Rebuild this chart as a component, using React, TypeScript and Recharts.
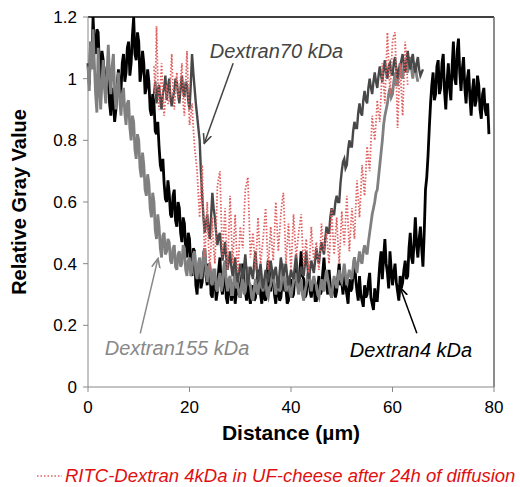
import {
  LineChart,
  Line,
  XAxis,
  YAxis,
  ReferenceLine,
  ReferenceDot,
  Legend,
} from "recharts";

const FONT = '"Liberation Sans", Arial, Helvetica, sans-serif';

// sample spacing of the profiles (µm); each row below is 2 µm
const STEP = 0.25;

const distanceTicks = [0, 20, 40, 60, 80];
const grayTicks = [0, 0.2, 0.4, 0.6, 0.8, 1, 1.2];

// Dextran 4 kDa, black, from 0 µm
const dextran4Start = 0;
const dextran4 = [
  1.05, 0.98, 1.12, 1.06, 1.2, 1.1, 1.08, 1.16,
  1.15, 1.04, 0.98, 1.09, 1.06, 0.99, 0.95, 1.04,
  1.02, 0.92, 0.88, 0.97, 0.93, 0.86, 0.9, 0.98,
  1.03, 0.94, 0.96, 1.05, 1.08, 0.99, 1.02, 1.1,
  1.12, 1.01, 1.05, 1.14, 1.2, 1.08, 1.06, 1.15,
  1.12, 0.99, 1.02, 1.09, 1.05, 0.95, 0.97, 1.03,
  0.99, 0.9, 0.88, 0.95, 0.92, 0.83, 0.82, 0.86,
  0.78, 0.72, 0.7, 0.74, 0.66, 0.61, 0.6, 0.67,
  0.63, 0.56, 0.55, 0.62, 0.64, 0.54, 0.52, 0.6,
  0.58, 0.5, 0.47, 0.55, 0.53, 0.44, 0.42, 0.5,
  0.48, 0.39, 0.36, 0.45, 0.44, 0.33, 0.3, 0.38,
  0.41, 0.32, 0.34, 0.43, 0.45, 0.36, 0.33, 0.4,
  0.39, 0.3, 0.29, 0.37, 0.36, 0.28, 0.31, 0.38,
  0.42, 0.33, 0.3, 0.36, 0.38, 0.29, 0.27, 0.33,
  0.35, 0.28, 0.3, 0.34, 0.27, 0.31, 0.36, 0.3,
  0.29, 0.35, 0.4, 0.33, 0.31, 0.28, 0.35, 0.3,
  0.27, 0.31, 0.33, 0.28, 0.29, 0.34, 0.38, 0.32,
  0.3, 0.27, 0.34, 0.29, 0.28, 0.35, 0.41, 0.33,
  0.31, 0.38, 0.36, 0.3, 0.27, 0.32, 0.33, 0.28,
  0.29, 0.34, 0.37, 0.31, 0.32, 0.27, 0.28, 0.33,
  0.35, 0.29, 0.3, 0.36, 0.4, 0.34, 0.32, 0.37,
  0.44, 0.36, 0.35, 0.29, 0.3, 0.35, 0.38, 0.31,
  0.29, 0.33, 0.34, 0.28, 0.28, 0.32, 0.36, 0.3,
  0.31, 0.37, 0.42, 0.35, 0.33, 0.3, 0.38, 0.33,
  0.29, 0.32, 0.35, 0.29, 0.31, 0.36, 0.4, 0.33,
  0.34, 0.3, 0.38, 0.33, 0.3, 0.27, 0.35, 0.31,
  0.32, 0.37, 0.42, 0.35, 0.31, 0.28, 0.36, 0.3,
  0.28, 0.26, 0.33, 0.29, 0.3, 0.34, 0.37, 0.29,
  0.27, 0.25, 0.32, 0.28, 0.28, 0.34, 0.4, 0.44,
  0.35, 0.42, 0.48, 0.4, 0.37, 0.32, 0.44, 0.38,
  0.33, 0.37, 0.4, 0.34, 0.31, 0.28, 0.36, 0.32,
  0.34, 0.38, 0.41, 0.35, 0.36, 0.45, 0.5, 0.42,
  0.4, 0.47, 0.55, 0.46, 0.42, 0.48, 0.52, 0.45,
  0.39, 0.5, 0.64, 0.68, 0.75, 0.84, 0.92, 0.98,
  1.02, 0.93, 0.95, 1.04, 1.06, 0.95, 0.97, 1.05,
  1.08, 0.96, 0.9, 0.99, 1.05, 0.97, 0.93, 1.04,
  1.12, 1.0, 0.98, 1.09, 1.13, 1.02, 0.96, 1.03,
  1.07, 0.97, 0.92, 1.0, 1.03, 0.94, 0.88, 0.96,
  1.0, 0.91, 0.93, 1.01, 0.98, 0.9, 0.87, 0.95,
  0.97, 0.9, 0.88, 0.92, 0.82,
];

// Dextran 155 kDa, light gray, from 0 µm
const dextran155Start = 0;
const dextran155 = [
  1.04, 0.96, 1.12, 1.03, 1.16, 1.05, 0.95, 0.89,
  1.1, 0.98, 0.9, 0.99, 1.06, 0.97, 0.92, 1.02,
  1.11, 1.0, 0.95, 1.04, 1.08, 0.96, 0.9, 0.97,
  1.02, 0.93, 0.88, 0.95, 0.97, 0.89, 0.85, 0.92,
  0.93, 0.84, 0.8, 0.88, 0.86, 0.77, 0.74, 0.82,
  0.8, 0.71, 0.68, 0.76, 0.72, 0.64, 0.62, 0.69,
  0.66, 0.58, 0.55, 0.63, 0.6, 0.51, 0.48, 0.56,
  0.52, 0.45, 0.42, 0.49, 0.5, 0.43, 0.44, 0.48,
  0.47, 0.41, 0.4, 0.45, 0.46, 0.39, 0.38, 0.43,
  0.44, 0.39, 0.4, 0.46, 0.45, 0.38, 0.36, 0.41,
  0.42, 0.36, 0.38, 0.43, 0.44, 0.37, 0.35, 0.4,
  0.42, 0.35, 0.37, 0.43, 0.45, 0.38, 0.34, 0.39,
  0.4, 0.34, 0.33, 0.38, 0.38, 0.32, 0.31, 0.35,
  0.37, 0.31, 0.33, 0.39, 0.41, 0.34, 0.31, 0.35,
  0.36, 0.3, 0.3, 0.35, 0.38, 0.32, 0.33, 0.3,
  0.29, 0.33, 0.36, 0.3, 0.31, 0.35, 0.39, 0.34,
  0.33, 0.29, 0.28, 0.32, 0.35, 0.31, 0.3, 0.34,
  0.38, 0.33, 0.31, 0.34, 0.36, 0.3, 0.29, 0.32,
  0.33, 0.36, 0.38, 0.33, 0.3, 0.33, 0.35, 0.31,
  0.32, 0.36, 0.4, 0.34, 0.31, 0.34, 0.36, 0.31,
  0.29, 0.32, 0.34, 0.36, 0.37, 0.33, 0.3, 0.33,
  0.35, 0.3, 0.28, 0.31, 0.33, 0.36, 0.38, 0.34,
  0.31, 0.34, 0.36, 0.34, 0.33, 0.3, 0.29, 0.32,
  0.35, 0.32, 0.31, 0.35, 0.38, 0.35, 0.33, 0.3,
  0.29, 0.33, 0.36, 0.34, 0.32, 0.35, 0.38, 0.35,
  0.34, 0.37, 0.4, 0.36, 0.33, 0.36, 0.38, 0.36,
  0.35, 0.39, 0.42, 0.39, 0.37, 0.41, 0.44, 0.41,
  0.4, 0.44, 0.46, 0.44, 0.43, 0.47, 0.5, 0.53,
  0.56, 0.58, 0.6, 0.63, 0.64, 0.68, 0.72, 0.76,
  0.8, 0.85, 0.88, 0.9, 0.92, 0.95, 0.97, 0.94,
  0.95, 0.99, 1.02, 0.98, 0.98, 1.03, 1.05, 1.01,
  1.0, 1.04, 1.06, 1.03, 1.02, 1.06, 1.07, 1.03,
  1.0, 1.04, 1.05, 1.01, 0.99,
];

// Dextran 70 kDa, dark gray, from 13 µm
const dextran70Start = 13;
const dextran70 = [
  0.95, 0.99, 0.92, 0.96, 0.98, 0.93, 0.9, 0.95,
  0.97, 1.01, 0.93, 0.97, 1.0, 0.94, 0.91, 0.94,
  0.96, 1.0, 0.99, 0.95, 0.92, 0.97, 1.01, 0.96,
  0.94, 0.99, 0.98, 0.93, 0.9, 0.98, 1.08, 1.02,
  0.97, 0.92, 0.88, 0.84, 0.8, 0.7, 0.62, 0.55,
  0.5, 0.53, 0.56, 0.51, 0.48, 0.55, 0.63, 0.58,
  0.55, 0.5, 0.46, 0.49, 0.5, 0.45, 0.41, 0.44,
  0.47, 0.42, 0.38, 0.41, 0.44, 0.39, 0.36, 0.39,
  0.42, 0.37, 0.34, 0.37, 0.4, 0.38, 0.35, 0.39,
  0.43, 0.37, 0.33, 0.36, 0.39, 0.37, 0.35, 0.4,
  0.44, 0.38, 0.34, 0.37, 0.4, 0.35, 0.32, 0.35,
  0.38, 0.36, 0.34, 0.38, 0.41, 0.38, 0.35, 0.37,
  0.39, 0.35, 0.32, 0.37, 0.42, 0.39, 0.36, 0.38,
  0.4, 0.36, 0.33, 0.35, 0.38, 0.36, 0.35, 0.39,
  0.43, 0.38, 0.34, 0.36, 0.39, 0.37, 0.36, 0.4,
  0.44, 0.39, 0.35, 0.38, 0.41, 0.39, 0.37, 0.41,
  0.45, 0.42, 0.4, 0.44, 0.47, 0.45, 0.43, 0.48,
  0.52, 0.5, 0.5, 0.55, 0.58, 0.56, 0.56, 0.6,
  0.62, 0.6, 0.6, 0.66, 0.7, 0.73, 0.74, 0.71,
  0.72, 0.77, 0.8, 0.78, 0.78, 0.83, 0.86, 0.84,
  0.84, 0.89, 0.92, 0.89, 0.88, 0.93, 0.96, 0.93,
  0.92, 0.97, 1.0, 0.97, 0.95, 0.99, 1.02, 0.99,
  0.97, 1.01, 1.04, 1.01, 0.99, 1.03, 1.06, 1.02,
  1.0, 1.04, 1.05, 1.02, 1.01, 1.05, 1.07, 1.03,
  1.0, 1.03, 1.04, 1.06, 1.08, 1.04, 1.02, 1.06,
  1.09, 1.05, 1.03, 1.06, 1.08, 1.04, 1.02, 1.05,
  1.07, 1.03, 1.01, 1.02, 1.03,
];

// RITC-Dextran 4 kDa in UF-cheese, red dotted, from 13 µm
const ritcStart = 13;
const ritc = [
  1.04, 0.95, 1.17, 1.0, 0.9, 0.97, 1.05, 0.94,
  0.88, 0.93, 0.98, 0.92, 0.92, 1.0, 1.08, 0.96,
  0.9, 0.96, 1.02, 0.94, 0.95, 1.0, 1.05, 0.92,
  0.88, 0.98, 1.09, 0.96, 0.85, 0.88, 0.92, 0.84,
  0.78, 0.74, 0.7, 0.62, 0.55, 0.64, 0.72, 0.55,
  0.42, 0.5, 0.6, 0.46, 0.38, 0.46, 0.55, 0.45,
  0.4, 0.52, 0.65, 0.68, 0.7, 0.55, 0.42, 0.5,
  0.58, 0.46, 0.38, 0.5, 0.62, 0.5, 0.4, 0.48,
  0.56, 0.45, 0.37, 0.44, 0.52, 0.48, 0.45, 0.55,
  0.64, 0.66, 0.68, 0.55, 0.42, 0.46, 0.5, 0.44,
  0.38, 0.46, 0.55, 0.47, 0.4, 0.44, 0.48, 0.53,
  0.58, 0.48, 0.38, 0.45, 0.52, 0.46, 0.41, 0.5,
  0.6, 0.52, 0.44, 0.5, 0.56, 0.6, 0.63, 0.52,
  0.4, 0.46, 0.53, 0.45, 0.38, 0.47, 0.56, 0.49,
  0.42, 0.46, 0.5, 0.53, 0.56, 0.47, 0.39, 0.44,
  0.48, 0.42, 0.37, 0.44, 0.52, 0.46, 0.41, 0.44,
  0.47, 0.42, 0.38, 0.45, 0.53, 0.48, 0.44, 0.47,
  0.5, 0.45, 0.4, 0.49, 0.58, 0.5, 0.43, 0.49,
  0.55, 0.47, 0.4, 0.48, 0.57, 0.51, 0.46, 0.54,
  0.62, 0.53, 0.44, 0.51, 0.58, 0.53, 0.48, 0.58,
  0.67, 0.61, 0.55, 0.63, 0.72, 0.67, 0.62, 0.7,
  0.78, 0.74, 0.7, 0.79, 0.88, 0.84, 0.8, 0.86,
  0.93, 0.89, 0.86, 0.95, 1.05, 0.98, 0.92, 1.04,
  1.15, 1.05, 0.95, 1.03, 1.12, 1.14, 1.15, 1.0,
  0.84, 0.95, 1.05, 0.96, 0.88, 1.0, 1.12, 1.05,
  0.98,
];

const toPoints = (start: number, values: number[]) =>
  values.map((v, i) => ({ x: start + i * STEP, y: v }));

const noteText = (text: string, color: string) => (props: any) => {
  const vb = props.viewBox || {};
  return (
    <text x={vb.x} y={vb.y} fill={color} fontSize={20} fontStyle="italic" fontFamily={FONT}>
      {text}
    </text>
  );
};

const renderLegend = (props: any) => {
  const items = (props.payload || []).filter((p: any) => p.value && p.value.startsWith("RITC"));
  return (
    <div style={{ height: 22, display: "flex", alignItems: "center", paddingLeft: 37 }}>
      {items.map((item: any) => (
        <div key={item.value} style={{ display: "flex", alignItems: "center" }}>
          <svg width={28} height={10}>
            <line x1={0} y1={5} x2={25} y2={5} stroke={item.color} strokeWidth={1.5} strokeDasharray="1.5 2" />
          </svg>
          <span style={{ color: "#e01010", fontStyle: "italic", fontSize: 18.5, fontFamily: FONT, lineHeight: "22px", whiteSpace: "nowrap" }}>
            {item.value}
          </span>
        </div>
      ))}
    </div>
  );
};

export default function App() {
  return (
    <div style={{ position: "absolute", left: 0, top: 0, width: 520, height: 487, background: "#fff", fontFamily: FONT }}>
      <LineChart width={520} height={487} margin={{ top: 17, right: 26, bottom: 0, left: 0 }}>
        <defs>
          <marker id="arrowHead" viewBox="0 0 10 10" refX={9} refY={5} markerWidth={7} markerHeight={7} orient="auto">
            <path d="M0,1 L9,5 L0,9" fill="none" stroke="context-stroke" strokeWidth={1.5} />
          </marker>
        </defs>
        <XAxis
          type="number"
          dataKey="x"
          domain={[0, 80]}
          ticks={distanceTicks}
          height={78}
          tickSize={5}
          tickMargin={9}
          stroke="#888"
          tick={{ fill: "#000", fontSize: 17, fontFamily: FONT }}
          label={{ value: "Distance (µm)", position: "insideBottom", offset: 25, fill: "#000", fontSize: 21, fontWeight: "bold", fontFamily: FONT }}
        />
        <YAxis
          type="number"
          domain={[0, 1.2]}
          ticks={grayTicks}
          width={88}
          tickSize={5}
          tickMargin={6}
          stroke="#888"
          tick={{ fill: "#000", fontSize: 17, fontFamily: FONT }}
          label={{ value: "Relative Gray Value", angle: -90, position: "insideLeft", offset: 19, fill: "#000", fontSize: 20, fontWeight: "bold", fontFamily: FONT, style: { textAnchor: "middle" } }}
        />
        <ReferenceLine y={1.2} stroke="#000" strokeWidth={1.5} />
        <ReferenceLine x={80} stroke="#666" strokeWidth={1.5} />

        <Line data={toPoints(dextran4Start, dextran4)} dataKey="y" name="Dextran4 kDa" stroke="#000" strokeWidth={2.8} dot={false} isAnimationActive={false} legendType="none" />
        <Line data={toPoints(dextran155Start, dextran155)} dataKey="y" name="Dextran155 kDa" stroke="#808080" strokeWidth={2.8} dot={false} isAnimationActive={false} legendType="none" />
        <Line data={toPoints(dextran70Start, dextran70)} dataKey="y" name="Dextran70 kDa" stroke="#484848" strokeWidth={2.4} dot={false} isAnimationActive={false} legendType="none" />
        <Line data={toPoints(ritcStart, ritc)} dataKey="y" name="RITC-Dextran 4kDa in UF-cheese after 24h of diffusion" stroke="#e06060" strokeWidth={1.8} strokeDasharray="1.5 1.8" dot={false} isAnimationActive={false} />

        <ReferenceLine segment={[{ x: 28.6, y: 1.05 }, { x: 22.9, y: 0.79 }]} stroke="#444" strokeWidth={1.5} markerEnd="url(#arrowHead)" />
        <ReferenceLine segment={[{ x: 10.3, y: 0.174 }, { x: 13.8, y: 0.417 }]} stroke="#888" strokeWidth={1.5} markerEnd="url(#arrowHead)" />
        <ReferenceLine segment={[{ x: 64.8, y: 0.174 }, { x: 61.5, y: 0.323 }]} stroke="#000" strokeWidth={1.5} markerEnd="url(#arrowHead)" />

        <ReferenceDot x={24.0} y={1.066} r={0} stroke="none" label={noteText("Dextran70 kDa", "#444")} />
        <ReferenceDot x={3.3} y={0.103} r={0} stroke="none" label={noteText("Dextran155 kDa", "#888")} />
        <ReferenceDot x={51.6} y={0.097} r={0} stroke="none" label={noteText("Dextran4 kDa", "#000")} />

        <Legend verticalAlign="bottom" align="left" height={22} content={renderLegend} />
      </LineChart>
    </div>
  );
}
